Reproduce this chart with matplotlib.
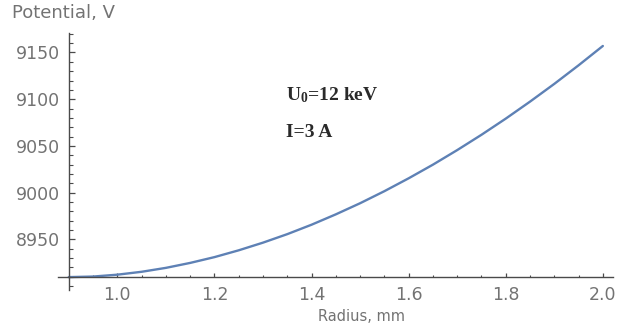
import matplotlib
matplotlib.use("Agg")
import matplotlib.pyplot as plt
from matplotlib.ticker import FixedLocator, NullFormatter

# Beam potential versus radius
radius_mm = [0.90, 0.95, 1.00, 1.05, 1.10, 1.15, 1.20, 1.25, 1.30, 1.35, 1.40, 1.45,
             1.50, 1.55, 1.60, 1.65, 1.70, 1.75, 1.80, 1.85, 1.90, 1.95, 2.00]
potential_v = [8909.5, 8910.1, 8912.1, 8915.2, 8919.4, 8924.7, 8930.9, 8938.2, 8946.4,
               8955.5, 8965.6, 8976.7, 8988.6, 9001.5, 9015.3, 9029.9, 9045.5, 9061.9,
               9079.2, 9097.4, 9116.4, 9136.3, 9157.0]

x_major = [1.0, 1.2, 1.4, 1.6, 1.8, 2.0]
x_labels = ["1.0", "1.2", "1.4", "1.6", "1.8", "2.0"]
y_major = [8950, 9000, 9050, 9100, 9150]
y_labels = ["8950", "9000", "9050", "9100", "9150"]

W, H = 617, 323
fig = plt.figure(figsize=(W / 100, H / 100), dpi=100)
ax = fig.add_axes([58 / W, 1 - 290 / H, (613 - 58) / W, (290 - 32.7) / H])

ax.plot(radius_mm, potential_v, color="#5E81B5", lw=1.7, solid_capstyle="round", clip_on=False)

ax.set_xlim(0.8778, 2.0209)
ax.set_ylim(8895.7, 9171.2)

axis_color = "#4a4a4a"
label_color = "#737373"
for side in ("top", "right"):
    ax.spines[side].set_visible(False)
ax.spines["left"].set_position(("data", radius_mm[0]))
ax.spines["bottom"].set_position(("data", potential_v[0]))
for side in ("left", "bottom"):
    ax.spines[side].set_color(axis_color)
    ax.spines[side].set_linewidth(1.0)

x_minor = [round(0.90 + 0.05 * i, 2) for i in range(23)]
x_minor = [v for v in x_minor if v not in x_major]
y_minor = [8900 + 10 * i for i in range(28)]
y_minor = [v for v in y_minor if v not in y_major]

ax.xaxis.set_major_locator(FixedLocator(x_major))
ax.xaxis.set_minor_locator(FixedLocator(x_minor))
ax.yaxis.set_major_locator(FixedLocator(y_major))
ax.yaxis.set_minor_locator(FixedLocator(y_minor))
ax.set_xticklabels(x_labels)
ax.set_yticklabels(y_labels)
ax.xaxis.set_minor_formatter(NullFormatter())
ax.yaxis.set_minor_formatter(NullFormatter())

ax.tick_params(axis="x", which="major", direction="in", length=3.0, width=0.9,
               color=axis_color, pad=6.5, labelcolor=label_color, labelsize=12.5)
ax.tick_params(axis="x", which="minor", direction="in", length=1.8, width=0.8, color=axis_color)
ax.tick_params(axis="y", which="major", direction="in", length=4.3, width=0.9,
               color=axis_color, pad=6.0, labelcolor=label_color, labelsize=12.5)
ax.tick_params(axis="y", which="minor", direction="in", length=2.8, width=0.8, color=axis_color)
for lab in ax.get_xticklabels() + ax.get_yticklabels():
    lab.set_family("DejaVu Sans")

fig.text(11.7 / W, 1 - 12.5 / H, "Potential, V", ha="left", va="center",
         family="DejaVu Sans", size=13, color=label_color)
fig.text(362 / W, 1 - 316.7 / H, "Radius, mm", ha="center", va="center",
         family="DejaVu Sans", size=10.5, color=label_color)

plt.rcParams["mathtext.fontset"] = "custom"
plt.rcParams["mathtext.rm"] = "Liberation Serif"
plt.rcParams["mathtext.bf"] = "Liberation Serif:bold"
plt.rcParams["mathtext.it"] = "Liberation Serif:italic"

fig.text(286 / W, 1 - 100.5 / H, r"U$_\mathbf{0}$=12 keV", ha="left", va="baseline",
         family="Liberation Serif", weight="bold", size=14, color="#2a2a2a")
fig.text(286 / W, 1 - 137 / H, "I=3 A", ha="left", va="baseline",
         family="Liberation Serif", weight="bold", size=14, color="#2a2a2a")

fig.savefig("out.png", dpi=100)
